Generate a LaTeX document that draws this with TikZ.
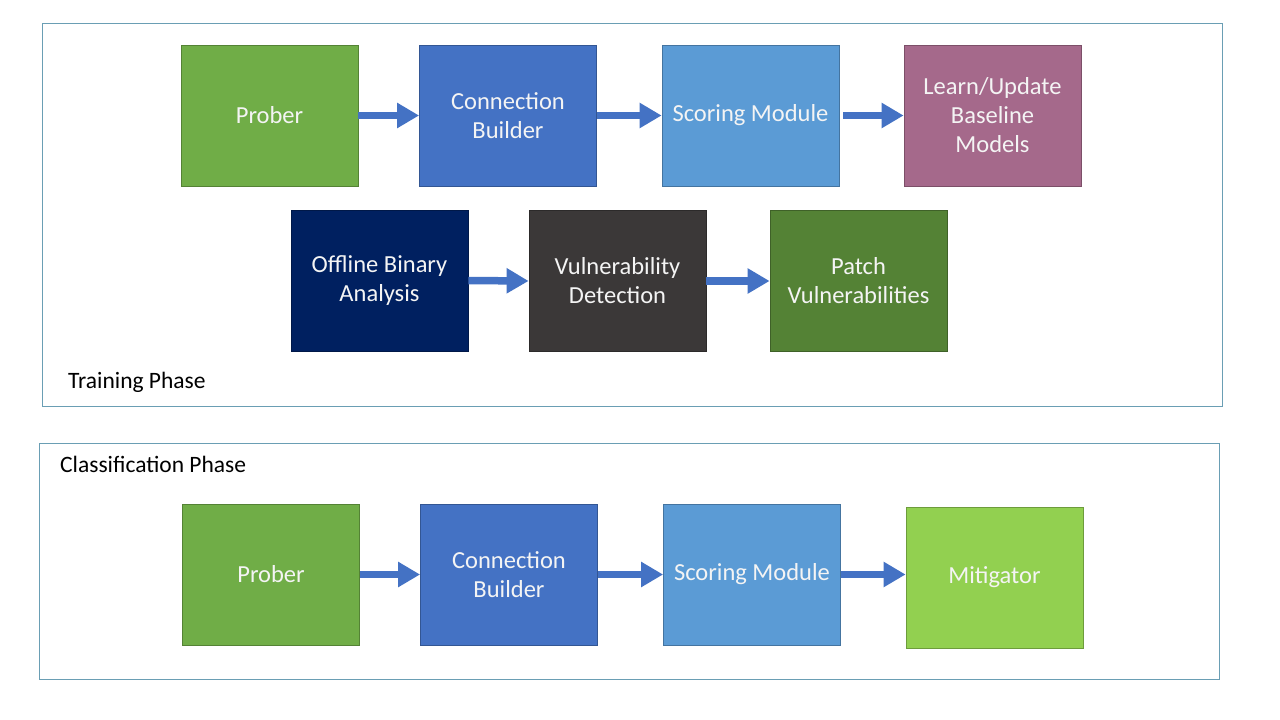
\documentclass[tikz,border=0pt]{standalone}
\usepackage{fontspec}
\setmainfont{Carlito}
\usetikzlibrary{arrows.meta}
\definecolor{cGreen}{HTML}{70AD47}
\definecolor{cBlue}{HTML}{4472C4}
\definecolor{cLight}{HTML}{5B9BD5}
\definecolor{cPurple}{HTML}{A5698B}
\definecolor{cNavy}{HTML}{002060}
\definecolor{cDark}{HTML}{3B3838}
\definecolor{cOlive}{HTML}{548235}
\definecolor{cLime}{HTML}{92D050}
\definecolor{cFrame}{HTML}{6A9EB4}
\definecolor{cText}{HTML}{F4F4F4}
\tikzset{
  box/.style={draw=#1!75!black, fill=#1, line width=0.8pt, minimum width=177pt, minimum height=141pt,
    inner sep=0pt, text=cText, align=center, font=\fontsize{24.5}{29}\selectfont},
  flow/.style={draw=cBlue, line width=7.5pt, -{Triangle[length=22pt,width=24pt]}},
  frame/.style={draw=cFrame, line width=1pt},
  phase/.style={anchor=west, inner sep=0pt, font=\fontsize{23.5}{28}\selectfont, text=black}
}
\begin{document}
\begin{tikzpicture}[x=1pt,y=-1pt]
\useasboundingbox[fill=white] (0,0) rectangle (1280,720);
\draw[frame] (42,23) rectangle (1222,406);
\draw[frame] (39,443) rectangle (1219,679);
\node[phase] (tp) at (68,382) {Training Phase};
\node[phase] (cp) at (60,464) {Classification Phase};
% training row 1
\node[box=cGreen] (p1) at (269.5,115.5) {Prober};
\node[box=cBlue] (c1) at (508,115.5) {Connection\\Builder};
\node[box=cLight] (s1) at (750.5,115.5) {Scoring Module};
\node[box=cPurple] (l1) at (992.5,115.5) {Learn/Update\\Baseline\\Models};
% training row 2
\node[box=cNavy] (o2) at (379.5,280.5) {Offline Binary\\Analysis};
\node[box=cDark] (v2) at (617.5,281) {Vulnerability\\Detection};
\node[box=cOlive] (pa2) at (858.5,281) {Patch\\Vulnerabilities};
% classification row
\node[box=cGreen] (p3) at (271,574.5) {Prober};
\node[box=cBlue] (c3) at (509,574.5) {Connection\\Builder};
\node[box=cLight] (s3) at (752,574.5) {Scoring Module};
\node[box=cLime] (m3) at (994.5,577.5) {Mitigator};
% arrows
\draw[flow] (p1.east) -- (c1.west);
\draw[flow] (c1.east) -- (s1.west);
\draw[flow] ([xshift=4pt]s1.east) -- (l1.west);
\draw[flow] (o2.east) -- (v2.west);
\draw[flow] (v2.east) -- (pa2.west);
\draw[flow] (p3.east) -- (c3.west);
\draw[flow] (c3.east) -- (s3.west);
\draw[flow] (s3.east) -- (m3.west |- s3.east);
\end{tikzpicture}
\end{document}
